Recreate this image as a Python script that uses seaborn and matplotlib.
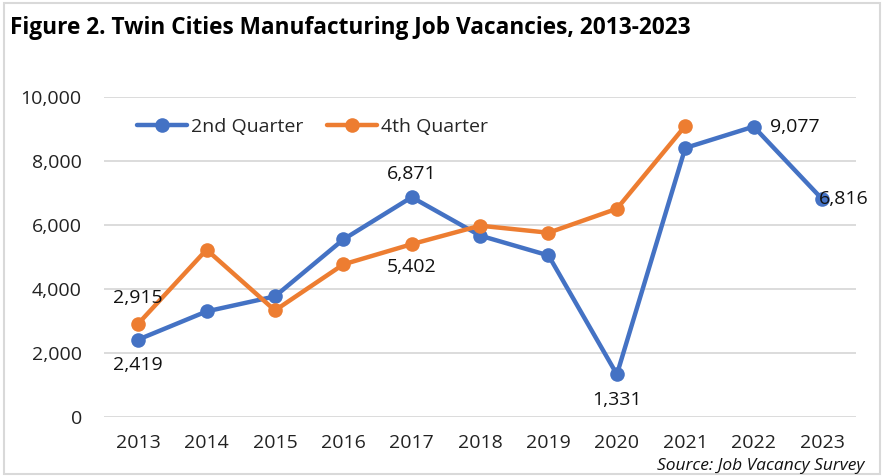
import pandas as pd
import numpy as np
import matplotlib.pyplot as plt
import seaborn as sns
from matplotlib.patches import Rectangle

years = [2013, 2014, 2015, 2016, 2017, 2018, 2019, 2020, 2021, 2022, 2023]
q2 = [2419, 3300, 3770, 5550, 6871, 5670, 5050, 1331, 8410, 9077, 6816]
q4 = [2915, 5230, 3330, 4770, 5402, 5980, 5760, 6510, 9100, np.nan, np.nan]
series_names = ['2nd Quarter', '4th Quarter']
colors = ['#4472C4', '#ED7D31']

df = pd.DataFrame({'Year': years * 2,
                   'Vacancies': q2 + q4,
                   'Series': [series_names[0]] * len(years) + [series_names[1]] * len(years)})
df = df.dropna()

sns.set_style('white')
plt.rcParams['font.family'] = ['Open Sans', 'DejaVu Sans']

fig = plt.figure(figsize=(8.85, 4.76), dpi=100)
ax = fig.add_axes([0.1175, 0.124, 0.85, 0.672])

sns.lineplot(data=df, x='Year', y='Vacancies', hue='Series', palette=colors,
             marker='o', markersize=10.5, markeredgewidth=0, linewidth=3.2, ax=ax)

ax.set_xlim(2012.5, 2023.5)
ax.set_ylim(0, 10000)
ax.set_xticks(years)
ax.set_xticklabels([str(y) for y in years], fontsize=14, color='#222222')
ax.set_yticks(range(0, 10001, 2000))
ax.set_yticklabels(['{:,}'.format(v) for v in range(0, 10001, 2000)], fontsize=14, color='#222222')
ax.tick_params(axis='y', length=0, pad=16)
ax.tick_params(axis='x', length=0, pad=12)
ax.yaxis.grid(True, color='#D9D9D9', linewidth=1.3)
ax.set_axisbelow(True)
for s in ax.spines.values():
    s.set_visible(False)
ax.set_xlabel('')
ax.set_ylabel('')

# data labels
lab = dict(fontsize=14, color='#111111')
ax.annotate('2,419', (2013, q2[0]), xytext=(0, -12), textcoords='offset points', ha='center', va='top', **lab)
ax.annotate('2,915', (2013, q4[0]), xytext=(0, 12), textcoords='offset points', ha='center', va='bottom', **lab)
ax.annotate('6,871', (2017, q2[4]), xytext=(0, 10), textcoords='offset points', ha='center', va='bottom', **lab)
ax.annotate('5,402', (2017, q4[4]), xytext=(0, -10), textcoords='offset points', ha='center', va='top', **lab)
ax.annotate('1,331', (2020, q2[7]), xytext=(0, -12), textcoords='offset points', ha='center', va='top', **lab)
ax.annotate('9,077', (2022, q2[9]), xytext=(12, 0), textcoords='offset points', ha='left', va='center', **lab)
ax.annotate('6,816', (2023, q2[10]), xytext=(-2, 0), textcoords='offset points', ha='left', va='center', **lab)

leg = ax.legend(loc='upper left', bbox_to_anchor=(0.02, 0.99), ncol=2, frameon=False,
                fontsize=14, handlelength=2.6, columnspacing=1.2, handletextpad=0.2)
for h in leg.legend_handles:
    h.set_linewidth(3.2)
    h.set_markersize(10.5)

fig.text(0.011, 0.942, 'Figure 2. Twin Cities Manufacturing Job Vacancies, 2013-2023',
         fontsize=16.3, fontweight='bold', ha='left', va='center', color='black')
fig.text(0.977, 0.022, 'Source: Job Vacancy Survey', fontsize=12.5, style='italic',
         ha='right', va='center', color='#111111')

fig.patches.append(Rectangle((0.004, 0.004), 0.99, 0.99, transform=fig.transFigure,
                             fill=False, edgecolor='#D9D9D9', linewidth=1.5))

fig.savefig('out.png', dpi=100)
